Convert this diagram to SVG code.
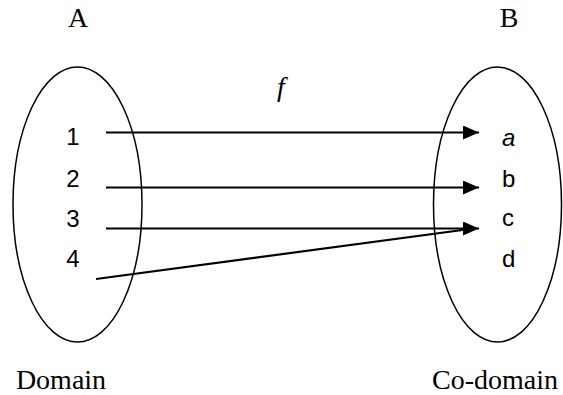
<svg xmlns="http://www.w3.org/2000/svg" width="563" height="395" viewBox="0 0 563 395">
<style>
.set{fill:none;stroke:#000;stroke-width:1.5}
.el{font-family:"Liberation Sans","Open Sans",sans-serif;font-size:24px;fill:#000}
.lab{font-family:"Liberation Serif","Times New Roman",serif;font-size:28px;fill:#000}
.conn line{stroke:#000;stroke-width:2.2}
</style>
<defs>
<marker id="ah" markerUnits="userSpaceOnUse" markerWidth="16" markerHeight="14" refX="16" refY="7" orient="auto">
<path d="M0,0 L16,7 L0,14 Z" fill="#000"/>
</marker>
</defs>
<rect width="563" height="395" fill="#fff"/>
<g id="setA">
<ellipse class="set" cx="77.5" cy="204.5" rx="64.5" ry="137.5"/>
<text class="lab" x="78" y="27" text-anchor="middle">A</text>
<text class="lab" x="61" y="389" text-anchor="middle">Domain</text>
</g>
<g id="setB">
<ellipse class="set" cx="497.5" cy="204.5" rx="64" ry="137.5"/>
<text class="lab" x="509" y="27" text-anchor="middle">B</text>
<text class="lab" x="495" y="389" text-anchor="middle">Co-domain</text>
</g>
<g id="n1"><text class="el" x="73" y="145" text-anchor="middle">1</text></g>
<g id="n2"><text class="el" x="73" y="187" text-anchor="middle">2</text></g>
<g id="n3"><text class="el" x="73" y="227" text-anchor="middle">3</text></g>
<g id="n4"><text class="el" x="73" y="267" text-anchor="middle">4</text></g>
<g id="na"><text class="el" x="502" y="146" font-style="italic">a</text></g>
<g id="nb"><text class="el" x="502" y="187">b</text></g>
<g id="nc"><text class="el" x="502" y="226">c</text></g>
<g id="nd"><text class="el" x="502" y="267">d</text></g>
<g id="label-f"><text class="lab" x="281" y="96" text-anchor="middle" font-style="italic">f</text></g>
<g class="conn" id="connectors">
<line x1="106" y1="132.5" x2="479" y2="132.5" marker-end="url(#ah)"/>
<line x1="106" y1="187.5" x2="479" y2="187.5" marker-end="url(#ah)"/>
<line x1="106" y1="228.5" x2="479" y2="228.5" marker-end="url(#ah)"/>
<line x1="96" y1="279" x2="470" y2="229"/>
</g>
</svg>
